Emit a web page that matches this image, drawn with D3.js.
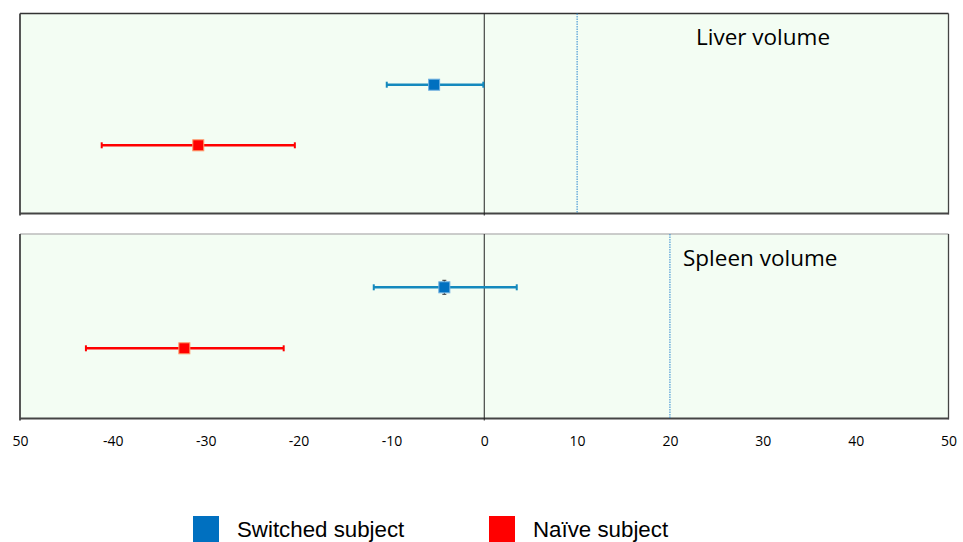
<!DOCTYPE html>
<html><head><meta charset="utf-8">
<script src="https://cdn.jsdelivr.net/npm/d3@7"></script>
<style>body{margin:0;background:#fff}svg{display:block}</style>
</head><body>
<script>
// ---- data ----
const panels = ["Liver volume", "Spleen volume"];
const groups = ["Switched subject", "Naïve subject"];
const liverMean = [-5.4, -30.8];
const liverLow = [-10.5, -41.2];
const liverHigh = [-0.1, -20.4];
const spleenMean = [-4.3, -32.3];
const spleenLow = [-11.9, -42.9];
const spleenHigh = [3.5, -21.6];
const refLines = [10, 20];
const tickValues = [-50, -40, -30, -20, -10, 0, 10, 20, 30, 40, 50];
const tickLabels = ["50", "-40", "-30", "-20", "-10", "0", "10", "20", "30", "40", "50"];
const colors = ["#0070C0", "#FF0000"];
const barColors = ["#1489BD", "#FF0000"];
const markerStroke = ["#6FB0E0", "#FF9A6A"];

const W = 963, H = 542;
const svg = d3.select("body").append("svg").attr("width", W).attr("height", H);
const x = d3.scaleLinear().domain([-50, 50]).range([20, 948.5]);

const layout = [
  {top: 13.5, bottom: 213.5, r0: 84.7, r1: 145.3, title: [696, 45], topColor: "#333"},
  {top: 234, bottom: 418.5, r0: 287.3, r1: 348.3, title: [683, 266], topColor: "#bbb"}
];
const dataSets = [
  {mean: liverMean, low: liverLow, high: liverHigh},
  {mean: spleenMean, low: spleenLow, high: spleenHigh}
];

panels.forEach((name, pi) => {
  const L = layout[pi], D = dataSets[pi];
  const y = d3.scalePoint().domain(groups).range([L.r0, L.r1]);
  const g = svg.append("g");
  g.append("rect").attr("x", x(-50)).attr("y", L.top).attr("width", x(50) - x(-50))
    .attr("height", L.bottom - L.top).attr("fill", "#F3FDF3");
  // borders
  g.append("line").attr("x1", x(-50)).attr("x2", x(50)).attr("y1", L.top).attr("y2", L.top)
    .attr("stroke", L.topColor).attr("stroke-width", 1.3);
  g.append("line").attr("x1", x(-50)).attr("x2", x(50)).attr("y1", L.bottom).attr("y2", L.bottom)
    .attr("stroke", "#444").attr("stroke-width", 1.8);
  g.append("line").attr("x1", x(-50)).attr("x2", x(-50)).attr("y1", L.top).attr("y2", L.bottom + 2)
    .attr("stroke", "#444").attr("stroke-width", 1.8);
  g.append("line").attr("x1", x(50)).attr("x2", x(50)).attr("y1", L.top).attr("y2", L.bottom + 1)
    .attr("stroke", "#444").attr("stroke-width", 1.3);
  // zero line
  g.append("line").attr("x1", x(0)).attr("x2", x(0)).attr("y1", L.top).attr("y2", L.bottom + 2)
    .attr("stroke", "#222").attr("stroke-width", 1);
  // reference line
  g.append("line").attr("x1", x(refLines[pi])).attr("x2", x(refLines[pi]))
    .attr("y1", L.top).attr("y2", L.bottom)
    .attr("stroke", "#2B86D0").attr("stroke-width", 1).attr("stroke-dasharray", "1.5,1");
  // title
  g.append("text").attr("x", L.title[0]).attr("y", L.title[1]).text(name)
    .attr("font-family", "'Open Sans', sans-serif").attr("font-size", 22.5).attr("fill", "#000");
  // error bars
  groups.forEach((grp, i) => {
    const cy = y(grp);
    g.append("line").attr("x1", x(D.low[i])).attr("x2", x(D.high[i])).attr("y1", cy).attr("y2", cy)
      .attr("stroke", barColors[i]).attr("stroke-width", 2.5);
    [D.low[i], D.high[i]].forEach(v => {
      g.append("line").attr("x1", x(v)).attr("x2", x(v)).attr("y1", cy - 3).attr("y2", cy + 3)
        .attr("stroke", barColors[i]).attr("stroke-width", 2);
    });
    if (pi === 1 && i === 0) {
      g.append("line").attr("x1", x(D.mean[i])).attr("x2", x(D.mean[i])).attr("y1", cy - 7).attr("y2", cy + 7)
        .attr("stroke", "#333").attr("stroke-width", 1);
      g.append("line").attr("x1", x(D.mean[i]) - 2).attr("x2", x(D.mean[i]) + 2).attr("y1", cy - 7).attr("y2", cy - 7)
        .attr("stroke", "#333").attr("stroke-width", 1);
      g.append("line").attr("x1", x(D.mean[i]) - 2).attr("x2", x(D.mean[i]) + 2).attr("y1", cy + 7).attr("y2", cy + 7)
        .attr("stroke", "#333").attr("stroke-width", 1);
    }
    g.append("rect").attr("x", x(D.mean[i]) - 5.5).attr("y", cy - 5.5).attr("width", 11).attr("height", 11)
      .attr("fill", colors[i]).attr("stroke", markerStroke[i]).attr("stroke-width", 1);
  });
});

// x-axis tick labels
const axis = d3.axisBottom(x).tickValues(tickValues).tickSize(0).tickPadding(0)
  .tickFormat((d, i) => tickLabels[i]);
const ax = svg.append("g").call(axis)
  .attr("font-family", null).attr("font-size", null);
ax.select(".domain").remove();
ax.selectAll("text").attr("dy", null).attr("y", 446)
  .style("font-family", "'Open Sans', sans-serif").style("font-size", "14px").attr("fill", "#000");

// legend
const lx = [193, 489];
groups.forEach((grp, i) => {
  svg.append("rect").attr("x", lx[i]).attr("y", 516).attr("width", 26).attr("height", 26).attr("fill", colors[i]);
  svg.append("text").attr("x", lx[i] + 44).attr("y", 537).text(grp)
    .attr("font-family", "'Liberation Sans', Arial, sans-serif").attr("font-size", 22.3).attr("fill", "#000");
});
</script>
</body></html>
